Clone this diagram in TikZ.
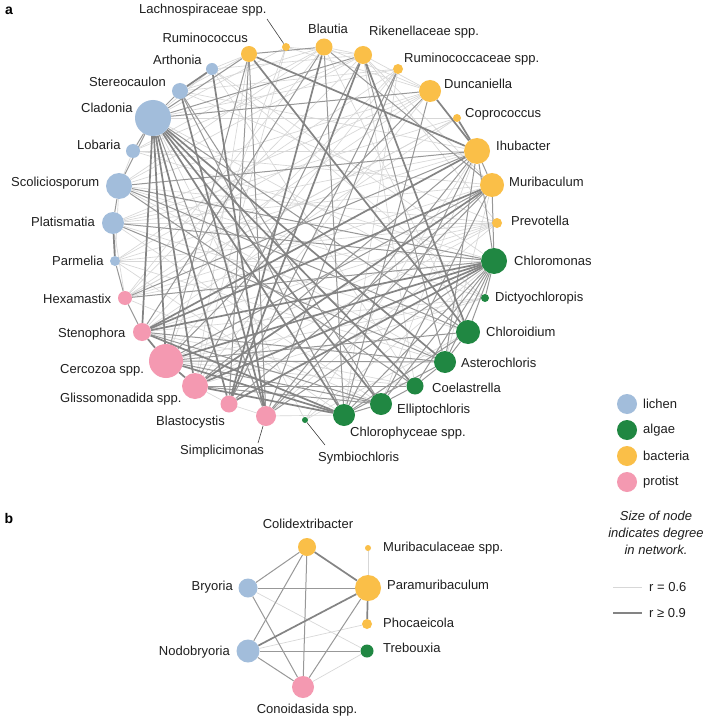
\documentclass[tikz,border=0pt]{standalone}
\usepackage{fontspec}
\setmainfont{Liberation Sans}
\pgfdeclarelayer{bg}
\pgfdeclarelayer{paper}
\pgfsetlayers{paper,bg,main}
\definecolor{lichen}{RGB}{162,189,219}
\definecolor{algae}{RGB}{32,135,66}
\definecolor{bact}{RGB}{250,191,72}
\definecolor{prot}{RGB}{244,153,177}
\definecolor{eone}{RGB}{215,215,215}
\definecolor{etwo}{RGB}{152,152,152}
\definecolor{ethree}{RGB}{132,132,132}
\tikzset{
  nd/.style={circle,inner sep=0pt,minimum size=#1},
  lc/.style={nd=#1,fill=lichen},
  ag/.style={nd=#1,fill=algae},
  bc/.style={nd=#1,fill=bact},
  pr/.style={nd=#1,fill=prot},
  lbl/.style={font=\fontsize{13}{15}\selectfont,inner sep=0pt,text=black!88},
  e1/.style={draw=eone,line width=0.65pt},
  e2/.style={draw=etwo,line width=1pt},
  e3/.style={draw=ethree,line width=1.7pt},
  tick/.style={draw=black!75,line width=0.6pt}
}
\begin{document}
\begin{tikzpicture}[x=1pt,y=-1pt]
\useasboundingbox (0,0) rectangle (709,722);
\begin{pgfonlayer}{paper}
\fill[white] (0,0) rectangle (709,722);
\end{pgfonlayer}
% panel letters
\node[font=\fontsize{14}{16}\selectfont\bfseries,inner sep=0pt] (pa) at (9,11) {a};
\node[font=\fontsize{14}{16}\selectfont\bfseries,inner sep=0pt] (pb) at (9,518) {b};
% ---------- panel a nodes ----------
\node[bc=16] (rumi) at (249,54) {};
\node[bc=8]  (lach) at (286,47) {};
\node[bc=17] (blau) at (324,47) {};
\node[bc=18] (rike) at (363,55) {};
\node[bc=10] (rumc) at (398,69) {};
\node[bc=22] (dunc) at (430,91) {};
\node[bc=8]  (copr) at (457,118) {};
\node[bc=26] (ihub) at (477,151) {};
\node[bc=24] (muri) at (492,185) {};
\node[bc=10] (prev) at (497,223) {};
\node[ag=26] (chmo) at (494,261) {};
\node[ag=8]  (dict) at (485,298) {};
\node[ag=24] (chld) at (468,332) {};
\node[ag=22] (aste) at (445,362) {};
\node[ag=17] (coel) at (415,386) {};
\node[ag=22] (elli) at (381,404) {};
\node[ag=22] (chph) at (344,415) {};
\node[ag=6]  (symb) at (305,420) {};
\node[pr=20] (simp) at (266,416) {};
\node[pr=17] (blas) at (229,404) {};
\node[pr=26] (glis) at (195,386) {};
\node[pr=34] (cerc) at (166,361) {};
\node[pr=18] (sten) at (142,332) {};
\node[pr=14] (hexa) at (125,298) {};
\node[lc=10] (parm) at (115,261) {};
\node[lc=22] (plat) at (113,223) {};
\node[lc=26] (scol) at (119,186) {};
\node[lc=14] (loba) at (133,151) {};
\node[lc=36] (clad) at (153,118) {};
\node[lc=16] (ster) at (180,91) {};
\node[lc=12] (arth) at (212,69) {};
% ---------- panel a labels ----------
\node[lbl,anchor=east] (rumiL) at (248,38) {Ruminococcus};
\node[lbl,anchor=west] (lachL) at (139,10) {Lachnospiraceae spp.};
\node[lbl] (blauL) at (328,29) {Blautia};
\node[lbl,anchor=west] (rikeL) at (369,32) {Rikenellaceae spp.};
\node[lbl,anchor=west] (rumcL) at (404,59) {Ruminococcaceae spp.};
\node[lbl,anchor=west] (duncL) at (444,84) {Duncaniella};
\node[lbl,anchor=west] (coprL) at (465,114) {Coprococcus};
\node[lbl,anchor=west] (ihubL) at (496,146) {Ihubacter};
\node[lbl,anchor=west] (muriL) at (509,182) {Muribaculum};
\node[lbl,anchor=west] (prevL) at (511,221) {Prevotella};
\node[lbl,anchor=west] (chmoL) at (514,261) {Chloromonas};
\node[lbl,anchor=west] (dictL) at (495,298) {Dictyochloropis};
\node[lbl,anchor=west] (chldL) at (486,332) {Chloroidium};
\node[lbl,anchor=west] (asteL) at (461,363) {Asterochloris};
\node[lbl,anchor=west] (coelL) at (432,388) {Coelastrella};
\node[lbl,anchor=west] (elliL) at (397,410) {Elliptochloris};
\node[lbl,anchor=west] (chphL) at (350,433) {Chlorophyceae spp.};
\node[lbl,anchor=west] (symbL) at (318,458) {Symbiochloris};
\node[lbl,anchor=west] (simpL) at (180,451) {Simplicimonas};
\node[lbl,anchor=west] (blasL) at (156,422) {Blastocystis};
\node[lbl,anchor=west] (glisL) at (60,399) {Glissomonadida spp.};
\node[lbl,anchor=west] (cercL) at (60,370) {Cercozoa spp.};
\node[lbl,anchor=west] (stenL) at (58,334) {Stenophora};
\node[lbl,anchor=west] (hexaL) at (43,299) {Hexamastix};
\node[lbl,anchor=west] (parmL) at (52,261) {Parmelia};
\node[lbl,anchor=west] (platL) at (31,222) {Platismatia};
\node[lbl,anchor=west] (scolL) at (11,183) {Scoliciosporum};
\node[lbl,anchor=west] (lobaL) at (77,145) {Lobaria};
\node[lbl,anchor=west] (cladL) at (81,108) {Cladonia};
\node[lbl,anchor=west] (sterL) at (89,82) {Stereocaulon};
\node[lbl,anchor=west] (arthL) at (153,60) {Arthonia};
% label pointers
\coordinate (lachP) at (267,19);
\coordinate (simpP) at (258,443);
\coordinate (symbP) at (325,445);
\draw[tick] (lachP) -- (lach);
\draw[tick] (simp) -- (simpP);
\draw[tick] (symb) -- (symbP);
% ---------- panel a edges ----------
\begin{pgfonlayer}{bg}
\foreach \a/\b in {loba/scol,loba/ihub,loba/muri,loba/chmo,loba/rike,loba/blau,
  scol/dunc,scol/rike,scol/blau,scol/prev,scol/aste,scol/dict,
  plat/ihub,plat/muri,plat/prev,plat/chld,plat/dunc,plat/copr,
  parm/chmo,parm/aste,parm/ihub,parm/dunc,parm/rumc,parm/prev,
  hexa/muri,hexa/prev,hexa/rike,hexa/blau,hexa/dunc,hexa/copr,
  arth/rumi,arth/rike,arth/chmo,arth/coel,arth/dict,
  ster/rumi,ster/ihub,ster/prev,ster/rumc,
  lach/rike,lach/dunc,lach/glis,lach/cerc,lach/clad,
  rumc/clad,rumc/cerc,rumc/chph,rumc/sten,
  copr/clad,copr/sten,copr/hexa,
  prev/cerc,prev/glis,prev/simp,prev/sten,
  dict/cerc,dict/sten,dict/glis,dict/clad,
  symb/chmo,symb/clad,symb/chld,symb/ihub,
  blau/rike,blau/dunc,blau/ster,
  rike/dunc,rike/muri,rike/prev,
  glis/blas,blas/simp,simp/chph,
  plat/hexa,scol/parm,clad/arth,
  muri/aste,ihub/elli,dunc/glis,rumi/glis,blau/chld,rike/coel,
  cerc/coel,sten/coel,hexa/elli,parm/chph,plat/elli}
  \draw[e1] (\a) -- (\b);
\foreach \a/\b in {clad/simp,clad/chld,clad/dunc,clad/ster,clad/scol,clad/loba,
  ster/chph,ster/elli,
  scol/plat,scol/chmo,scol/ihub,scol/chld,scol/coel,
  plat/aste,plat/chmo,
  hexa/ihub,hexa/chmo,
  sten/aste,sten/elli,
  cerc/aste,cerc/elli,cerc/muri,cerc/chld,
  glis/elli,glis/coel,glis/ihub,
  blas/muri,blas/rumi,
  simp/chmo,simp/ihub,simp/rumi,
  rumi/blau,rumi/clad,rumi/cerc,
  blau/chph,blau/sten,blau/muri,
  rike/clad,rike/glis,rike/aste,
  rumc/blas,rumc/simp,
  dunc/cerc,dunc/chph,
  ihub/muri,ihub/chmo,ihub/aste,ihub/chph,
  muri/chmo,muri/simp,muri/elli,
  chmo/chld,chmo/aste,chmo/elli,chmo/coel,chmo/dict,
  chph/elli,elli/coel,coel/aste,aste/chld,
  chph/chld,chph/aste,chmo/chph,sten/hexa,parm/hexa}
  \draw[e2] (\a) -- (\b);
\foreach \a/\b in {clad/chph,clad/elli,clad/glis,clad/cerc,clad/sten,clad/aste,clad/coel,clad/blas,
  chmo/cerc,chmo/sten,chmo/glis,chmo/blas,
  chph/glis,chph/sten,chph/cerc,
  rumi/chld,rumi/ihub,
  arth/ster,cerc/glis,sten/cerc,
  muri/glis,muri/sten,
  dunc/ihub,copr/ihub,plat/parm,
  rike/blas,rike/chld,blau/blas,
  ster/simp,arth/simp,ihub/sten}
  \draw[e3] (\a) -- (\b);
\end{pgfonlayer}
% ---------- legend ----------
\node[lc=20] (legl) at (627,404) {};
\node[ag=20] (lega) at (627,430) {};
\node[bc=20] (legb) at (627,456) {};
\node[pr=20] (legp) at (627,482) {};
\node[lbl,anchor=west] (leglL) at (643,404) {lichen};
\node[lbl,anchor=west] (legaL) at (643,430) {algae};
\node[lbl,anchor=west] (legbL) at (643,456) {bacteria};
\node[lbl,anchor=west] (legpL) at (643,482) {protist};
\node[lbl,font=\fontsize{13}{17}\selectfont\itshape,align=center] (legS) at (656,533) {Size of node\\indicates degree\\in network.};
\coordinate (r6a) at (613,587);
\coordinate (r6b) at (642,587);
\coordinate (r9a) at (613,613);
\coordinate (r9b) at (642,613);
\draw[e1] (r6a) -- (r6b);
\draw[e3] (r9a) -- (r9b);
\node[lbl,anchor=west] (r6L) at (649,587) {r = 0.6};
\node[lbl,anchor=west] (r9L) at (649,613) {r ≥ 0.9};
% ---------- panel b ----------
\node[bc=18] (coli) at (307,547) {};
\node[bc=6]  (mubs) at (368,548) {};
\node[bc=26] (para) at (368,588) {};
\node[bc=10] (phoc) at (367,624) {};
\node[ag=13] (treb) at (367,651) {};
\node[pr=22] (cono) at (303,687) {};
\node[lc=23] (nodo) at (248,651) {};
\node[lc=19] (bryo) at (248,588) {};
\node[lbl] (coliL) at (308,524) {Colidextribacter};
\node[lbl,anchor=west] (mubsL) at (383,548) {Muribaculaceae spp.};
\node[lbl,anchor=west] (paraL) at (387,585) {Paramuribaculum};
\node[lbl,anchor=west] (phocL) at (383,623) {Phocaeicola};
\node[lbl,anchor=west] (trebL) at (383,648) {Trebouxia};
\node[lbl] (conoL) at (307,710) {Conoidasida spp.};
\node[lbl,anchor=east] (nodoL) at (230,652) {Nodobryoria};
\node[lbl,anchor=east] (bryoL) at (233,587) {Bryoria};
\begin{pgfonlayer}{bg}
\foreach \a/\b in {bryo/treb,nodo/phoc,cono/treb,para/mubs}
  \draw[e1] (\a) -- (\b);
\foreach \a/\b in {coli/bryo,coli/nodo,coli/cono,bryo/para,bryo/cono,nodo/treb,nodo/cono,cono/para}
  \draw[e2] (\a) -- (\b);
\foreach \a/\b in {coli/para,nodo/para,para/phoc}
  \draw[e3] (\a) -- (\b);
\end{pgfonlayer}
\end{tikzpicture}
\end{document}
